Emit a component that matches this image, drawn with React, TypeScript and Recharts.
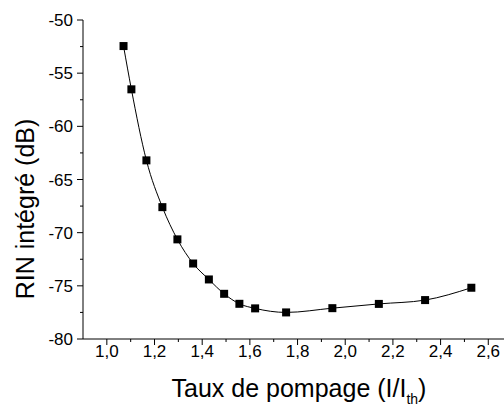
import { LineChart, Line, XAxis, YAxis, Label } from 'recharts';

const pumpRates = [1.07, 1.103, 1.166, 1.233, 1.296, 1.362, 1.428, 1.492, 1.556, 1.622, 1.752, 1.946, 2.141, 2.335, 2.529];
const rinValues = [-52.45, -56.52, -63.2, -67.6, -70.63, -72.9, -74.4, -75.75, -76.69, -77.12, -77.5, -77.1, -76.7, -76.34, -75.18];

const xTicks = [1.0, 1.1, 1.2, 1.3, 1.4, 1.5, 1.6, 1.7, 1.8, 1.9, 2.0, 2.1, 2.2, 2.3, 2.4, 2.5, 2.6];
const yTicks = [-80, -77.5, -75, -72.5, -70, -67.5, -65, -62.5, -60, -57.5, -55, -52.5, -50];

const data = pumpRates.map((x, i) => ({ x, y: rinValues[i] }));

const FONT = '"Liberation Sans", Arial, sans-serif';

const XTick = (props: any) => {
  const { x, y, payload } = props;
  const v = payload.value as number;
  const major = Math.abs(v * 5 - Math.round(v * 5)) < 1e-6;
  return (
    <g>
      <line x1={x} x2={x} y1={y} y2={y + (major ? 6 : 3)} stroke="#000" />
      {major && (
        <text x={x} y={y + 18} textAnchor="middle" fontSize={17} fontFamily={FONT} fill="#000">
          {v.toFixed(1).replace('.', ',')}
        </text>
      )}
    </g>
  );
};

const YTick = (props: any) => {
  const { x, y, payload } = props;
  const v = payload.value as number;
  const major = Number.isInteger(v / 5);
  return (
    <g>
      <line x1={x - (major ? 6 : 3)} x2={x} y1={y} y2={y} stroke="#000" />
      {major && (
        <text x={x - 10} y={y} dy="0.36em" textAnchor="end" fontSize={17} fontFamily={FONT} fill="#000">
          {v}
        </text>
      )}
    </g>
  );
};

const SquareDot = (props: any) => {
  const { cx, cy, index } = props;
  return <rect key={index} x={cx - 4} y={cy - 4} width={8} height={8} fill="#000" />;
};

export default function App() {
  return (
    <div style={{ position: 'absolute', left: 0, top: 0, background: '#fff' }}>
      <LineChart width={504} height={408} data={data} margin={{ top: 20, right: 0, left: 0, bottom: 0 }}>
        <XAxis
          dataKey="x"
          type="number"
          domain={[0.9, 2.666]}
          allowDataOverflow
          ticks={xTicks}
          interval={0}
          height={69}
          tickSize={0}
          tickMargin={0}
          tickLine={false}
          axisLine={{ stroke: '#000' }}
          tick={XTick}
        >
          <Label
            content={() => (
              <text x={299} y={397} textAnchor="middle" fontSize={25} fontFamily={FONT} fill="#000">
                Taux de pompage (I/I
                <tspan fontSize={14} dy={7}>th</tspan>
                <tspan dy={-7}>)</tspan>
              </text>
            )}
          />
        </XAxis>
        <YAxis
          type="number"
          domain={[-80, -50]}
          ticks={yTicks}
          interval={0}
          width={83}
          tickSize={0}
          tickMargin={0}
          tickLine={false}
          axisLine={{ stroke: '#000' }}
          tick={YTick}
        >
          <Label
            content={() => (
              <text
                x={34}
                y={209}
                textAnchor="middle"
                fontSize={25}
                fontFamily={FONT}
                fill="#000"
                transform="rotate(-90, 34, 209)"
              >
                RIN intégré (dB)
              </text>
            )}
          />
        </YAxis>
        <Line
          type="monotone"
          dataKey="y"
          stroke="#000"
          strokeWidth={1}
          dot={SquareDot}
          isAnimationActive={false}
        />
      </LineChart>
    </div>
  );
}
